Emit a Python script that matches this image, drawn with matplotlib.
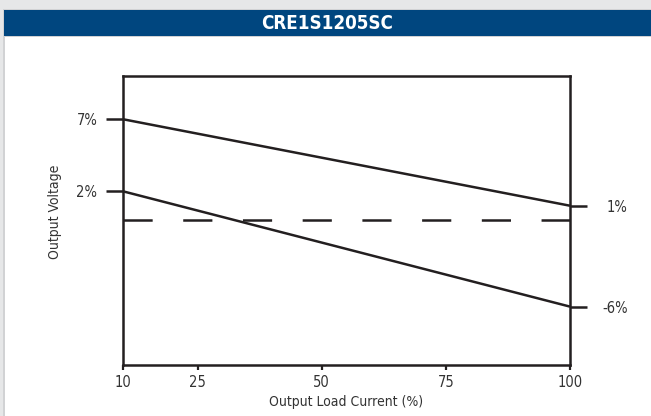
import matplotlib
matplotlib.use("Agg")
import matplotlib.pyplot as plt
from matplotlib.patches import Rectangle

# ---- data ----
title = "CRE1S1205SC"
load_current = [10, 100]
upper_limit = [7, 1]
lower_limit = [2, -6]
nominal = [0, 0]
x_ticks = [10, 25, 50, 75, 100]
left_ticks = [7, 2]
left_labels = ["7%", "2%"]
right_ticks = [1, -6]
right_labels = ["1%", "-6%"]
x_label = "Output Load Current (%)"
y_label = "Output Voltage"

plt.rcParams['font.family'] = ['DejaVu Sans']
plt.rcParams['font.stretch'] = 'condensed'
plt.rcParams['lines.scale_dashes'] = False

W, H = 651, 416
fig = plt.figure(figsize=(W / 100, H / 100), dpi=100)
fig.patch.set_facecolor('white')

line_c = '#231f20'
text_c = '#333333'

def px_rect(x0, y0, x1, y1, color, z=0):
    fig.patches.append(Rectangle((x0 / W, 1 - y1 / H), (x1 - x0) / W, (y1 - y0) / H,
                                 transform=fig.transFigure, facecolor=color,
                                 edgecolor='none', zorder=z))

px_rect(0, 0, W, 9, '#e6e7e8')
px_rect(0, 0, 3, H, '#e6e7e8')
px_rect(3, 9, 5, H, '#d1d2d4')
px_rect(3, 9, W, 37, '#d1d2d4')
px_rect(4, 10, W, 36, '#00467f')
fig.text((4 + W) / 2 / W, 1 - 23.5 / H, title, color='white', fontsize=13.5,
         fontweight='bold', ha='center', va='center')

ax = fig.add_axes([123 / W, 1 - 365 / H, (570 - 123) / W, (365 - 76) / H])
ax.set_xlim(10, 100)
ax.set_ylim(-10.05, 10)

ax.plot(load_current, upper_limit, color=line_c, lw=1.8, solid_capstyle='butt')
ax.plot(load_current, lower_limit, color=line_c, lw=1.8, solid_capstyle='butt')
ax.plot(load_current, nominal, color=line_c, lw=1.8, dashes=(21, 22), dash_capstyle='butt')

for s in ax.spines.values():
    s.set_linewidth(1.8)
    s.set_color(line_c)

ax.set_xticks(x_ticks)
ax.set_xticklabels([str(v) for v in x_ticks])
ax.tick_params(axis='x', direction='out', length=3.5, width=1.6, color=line_c,
               labelsize=10.5, labelcolor=text_c, pad=4)

ax.set_yticks(left_ticks)
ax.set_yticklabels(left_labels)
ax.tick_params(axis='y', direction='out', length=12.5, width=1.8, color=line_c,
               labelsize=10.5, labelcolor=text_c, pad=6)

ax2 = ax.twinx()
ax2.set_ylim(ax.get_ylim())
ax2.set_yticks(right_ticks)
ax2.set_yticklabels(right_labels)
ax2.tick_params(axis='y', direction='out', length=12.5, width=1.8, color=line_c,
                labelsize=10.5, labelcolor=text_c, pad=29)
for lab in ax2.get_yticklabels():
    lab.set_horizontalalignment('right')
for s in ax2.spines.values():
    s.set_visible(False)

ax.set_xlabel(x_label, fontsize=10, color=text_c, labelpad=3)
fig.text(55 / W, 1 - 212 / H, y_label, rotation=90, fontsize=10, color=text_c,
         ha='center', va='center')

fig.savefig("out.png", dpi=100)
